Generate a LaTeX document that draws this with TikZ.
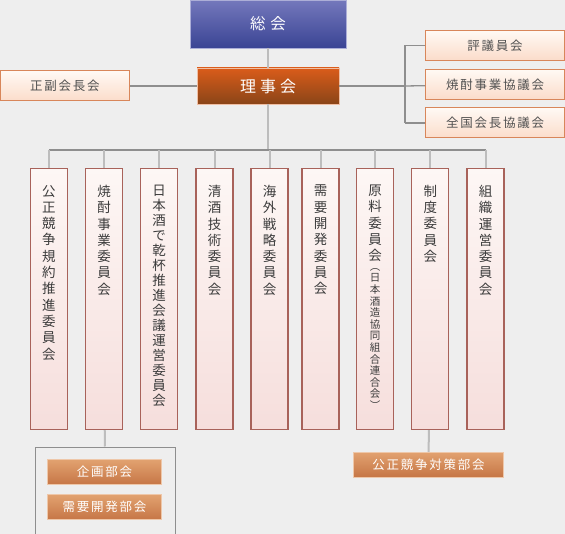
\documentclass[tikz,border=0pt]{standalone}
\usepackage{fontspec}
\setmainfont{Noto Sans CJK JP}
\newfontfamily\jpwide[LetterSpace=14]{Noto Sans CJK JP}
\usetikzlibrary{positioning}
\definecolor{haikei}{HTML}{EEEEEE}
\definecolor{aoue}{HTML}{7478BC}
\definecolor{aoshita}{HTML}{3A4494}
\definecolor{akaue}{HTML}{DA5C1A}
\definecolor{akashita}{HTML}{8A4518}
\definecolor{momoue}{HTML}{FDF7F5}
\definecolor{momoshita}{HTML}{F6DEDC}
\definecolor{momowaku}{HTML}{A8625A}
\definecolor{daiue}{HTML}{FFF9F4}
\definecolor{daishita}{HTML}{FBDCCA}
\definecolor{daiwaku}{HTML}{D8865A}
\definecolor{buue}{HTML}{E2A270}
\definecolor{bushita}{HTML}{C67646}
\definecolor{moji}{HTML}{3C3C3C}
\definecolor{senkoi}{HTML}{8E8E8E}
\definecolor{senusu}{HTML}{BDBDBD}

\begin{document}
\begin{tikzpicture}[
    x=1pt,y=-1pt,
    sokai/.style   = {rectangle,draw=aoue!60,top color=aoue,bottom color=aoshita,
                      text=white,font=\fontsize{15.5}{18}\selectfont,
                      minimum width=156pt,minimum height=48pt,inner sep=0pt},
    riji/.style    = {rectangle,draw=akaue!40,top color=akaue,bottom color=akashita,
                      text=white,font=\fontsize{16}{18}\selectfont,
                      minimum width=142pt,minimum height=36pt,inner sep=0pt},
    dai/.style     = {rectangle,draw=daiwaku,line width=1pt,top color=daiue,bottom color=daishita,
                      text=moji!90,font=\jpwide\fontsize{12.5}{15}\selectfont,
                      minimum width=139pt,minimum height=30pt,inner sep=0pt},
    iinkai/.style  = {rectangle,draw=momowaku,line width=1.2pt,top color=momoue,bottom color=momoshita,
                      minimum width=37pt,minimum height=261pt,inner sep=0pt},
    tate/.style    = {align=center,anchor=north,inner sep=0pt,text=moji,
                      font=\fontsize{13.5}{16.3}\selectfont},
    bukai/.style   = {rectangle,draw=buue!60,top color=buue,bottom color=bushita,
                      text=white,font=\jpwide\fontsize{12.5}{15}\selectfont,
                      minimum height=25pt,inner sep=0pt},
    sen/.style     = {senkoi,line width=1.3pt},
    sen2/.style    = {senusu,line width=2pt},
  ]

  \fill[haikei] (0,0) rectangle (565,534);
  \useasboundingbox (0,0) rectangle (565,534);

  % 上段
  \node[sokai] (sokai) at (268,24)   {総\hspace{5pt}会};
  \node[riji]  (riji)  at (268,86)   {理\hspace{4pt}事\hspace{4pt}会};
  \node[dai,minimum width=129pt] (fuku) at (65,86) {正副会長会};

  \node[dai] (hyogi)   at (495,45.5)  {評議員会};
  \node[dai] (shochu)  at (495,84.5)  {焼酎事業協議会};
  \node[dai] (zenkoku) at (495,123)   {全国会長協議会};

  \coordinate (hub) at (405,86);
  \coordinate (bar) at (268,150);

  \draw[sen2] (sokai) -- (riji);
  \draw[sen] (fuku) -- (riji);
  \draw[sen] (riji) -- (hub);
  \draw[sen] (hub |- hyogi) -- (hub |- zenkoku);
  \draw[sen] (hub |- hyogi) -- (hyogi);
  \draw[sen] (hub |- zenkoku) -- (zenkoku);
  \draw[sen] (hub) -- (shochu);

  % 委員会
  \node[iinkai] (c1) at (48.8,299)  {};
  \node[iinkai] (c2) at (104.2,299) {};
  \node[iinkai] (c3) at (159.2,299) {};
  \node[iinkai] (c4) at (214.5,299) {};
  \node[iinkai] (c5) at (269.5,299) {};
  \node[iinkai] (c6) at (320.5,299) {};
  \node[iinkai] (c7) at (375,299)   {};
  \node[iinkai] (c8) at (430.3,299) {};
  \node[iinkai] (c9) at (485.5,299) {};

  \node[tate,below=17pt of c1.north] (t1) {公\\正\\競\\争\\規\\約\\推\\進\\委\\員\\会};
  \node[tate,below=17pt of c2.north] (t2) {焼\\酎\\事\\業\\委\\員\\会};
  \node[tate,below=17pt of c3.north,font=\fontsize{13.5}{15}\selectfont] (t3)
       {日\\本\\酒\\で\\乾\\杯\\推\\進\\会\\議\\運\\営\\委\\員\\会};
  \node[tate,below=17pt of c4.north] (t4) {清\\酒\\技\\術\\委\\員\\会};
  \node[tate,below=17pt of c5.north] (t5) {海\\外\\戦\\略\\委\\員\\会};
  \node[tate,below=17pt of c6.north] (t6) {需\\要\\開\\発\\委\\員\\会};
  \node[tate,below=17pt of c7.north] (t7) {原\\料\\委\\員\\会};
  \node[tate,below=6pt of t7,font=\fontsize{10.5}{11.6}\selectfont] (t7s)
       {︵\\日\\本\\酒\\造\\協\\同\\組\\合\\連\\合\\会\\︶};
  \node[tate,below=17pt of c8.north] (t8) {制\\度\\委\\員\\会};
  \node[tate,below=17pt of c9.north] (t9) {組\\織\\運\\営\\委\\員\\会};

  \draw[sen2] (riji) -- (bar);
  \draw[sen] (c1 |- bar) -- (c9 |- bar);
  \foreach \c in {c1,c2,c3,c4,c5,c6,c7,c8,c9}
    \draw[sen2] (\c |- bar) -- (\c.north);

  % 部会
  \node[rectangle,draw=senkoi,line width=1pt,minimum width=140pt,minimum height=87pt] (gurupu) at (105,490.5) {};
  \node[bukai,minimum width=114pt] (kikaku) at (104.5,472) {企画部会};
  \node[bukai,minimum width=114pt] (juyo)   at (104.5,507) {需要開発部会};
  \node[bukai,minimum width=150pt] (taisaku) at (428.5,464.5) {公正競争対策部会};

  \draw[sen2] (c2) -- (gurupu);
  \draw[sen2] (c8) -- (taisaku);

\end{tikzpicture}
\end{document}
